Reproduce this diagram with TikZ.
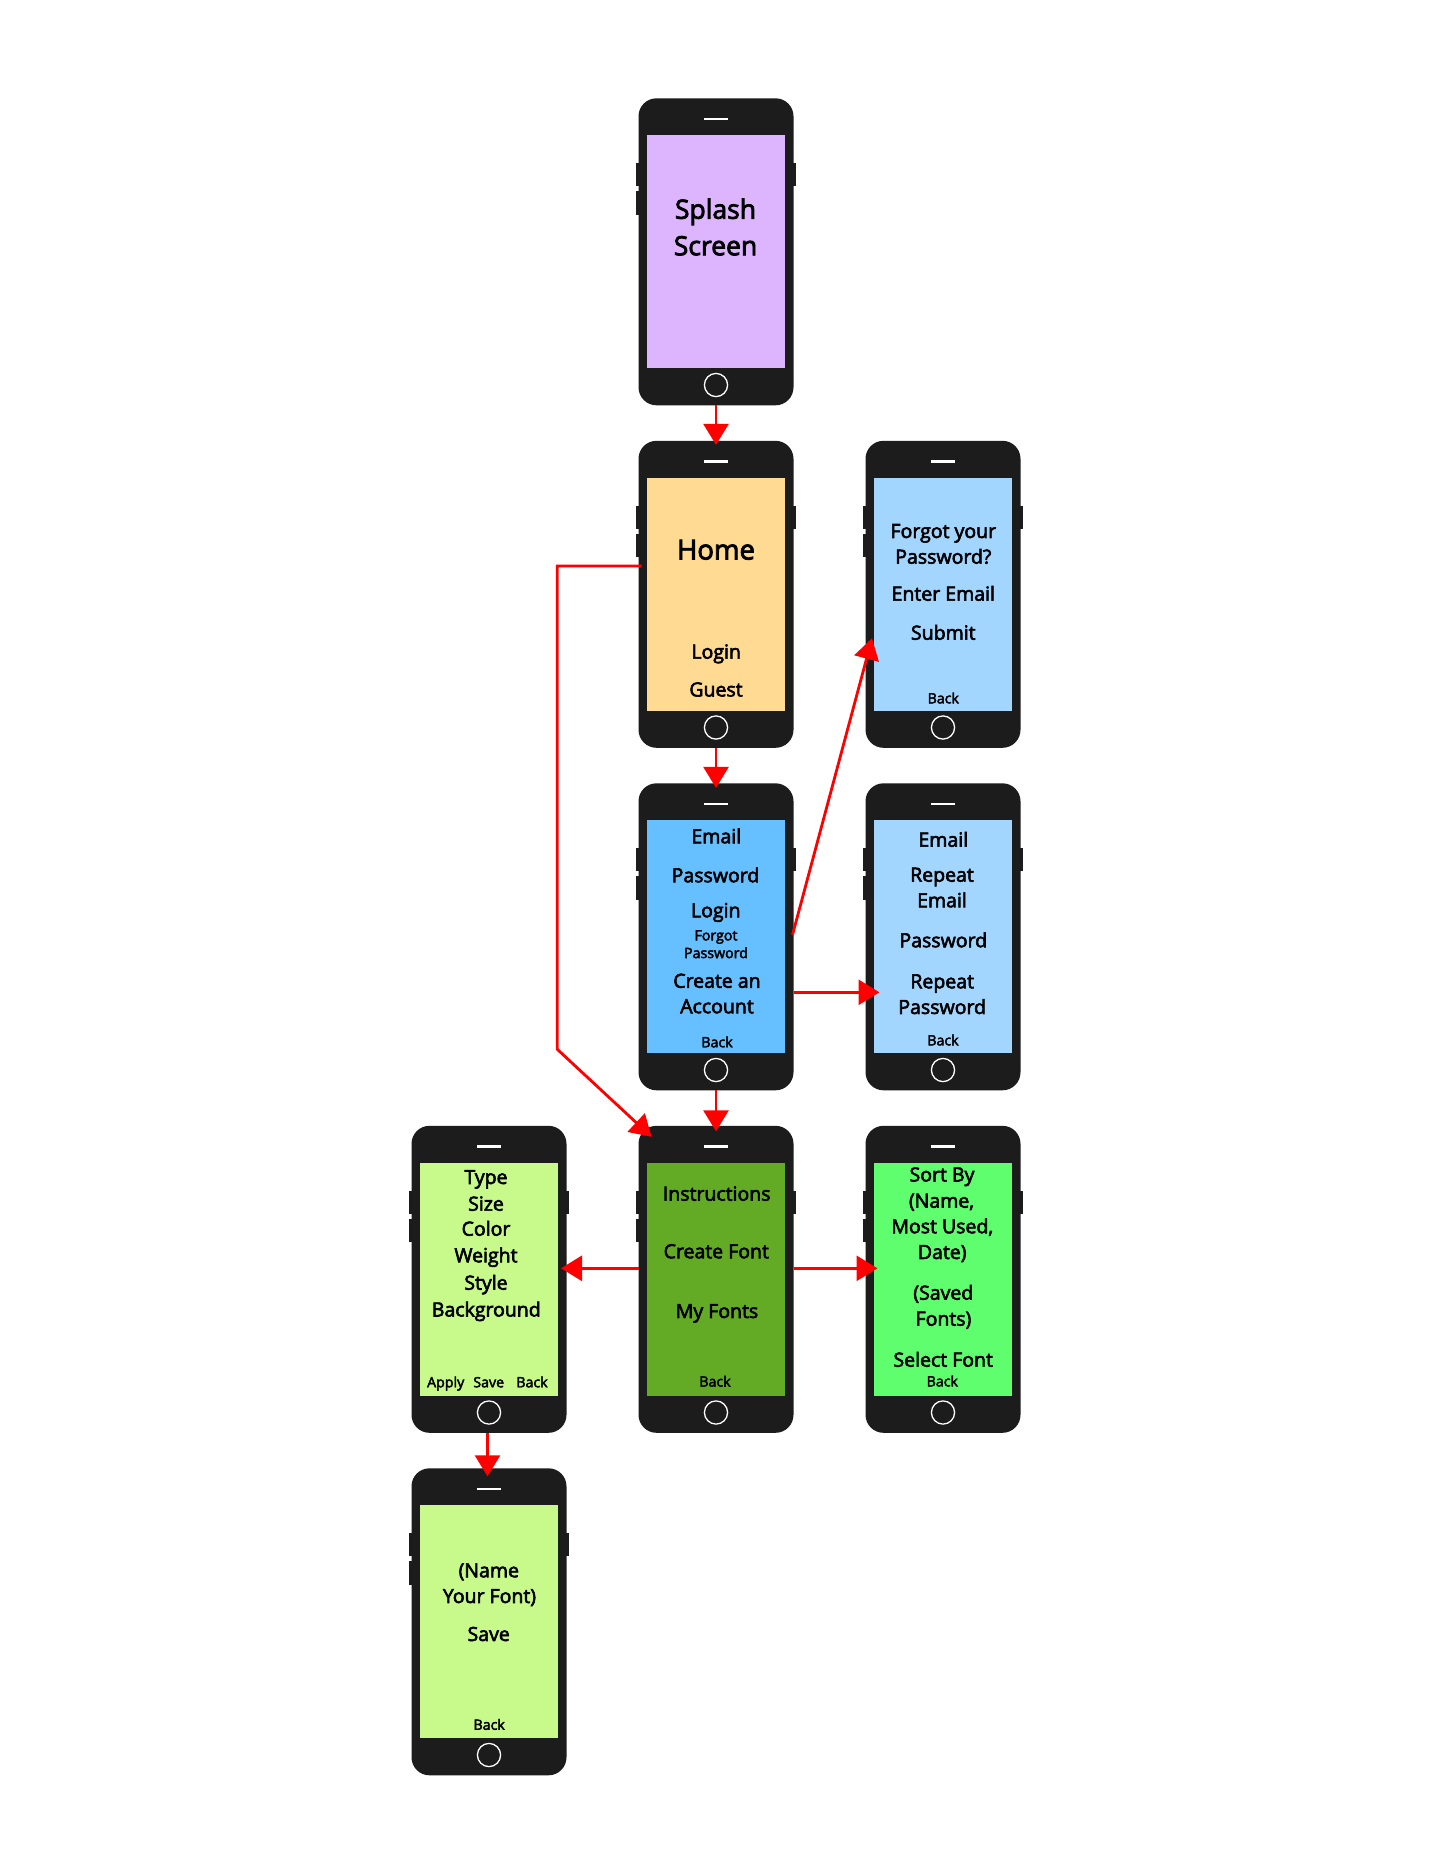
\documentclass[tikz,border=0pt]{standalone}
\usepackage{fontspec}
\setmainfont{Open Sans}[RawFeature={embolden=3}]
\usetikzlibrary{arrows.meta}
\definecolor{phonebk}{HTML}{1C1C1C}
\definecolor{arrowred}{HTML}{FF0000}
\definecolor{scsplash}{HTML}{DDB5FE}
\definecolor{schome}{HTML}{FFDA92}
\definecolor{sclogin}{HTML}{66BFFF}
\definecolor{sclight}{HTML}{A3D6FF}
\definecolor{scmenu}{HTML}{63AB24}
\definecolor{sceditor}{HTML}{C8F98B}
\definecolor{scfonts}{HTML}{5EFE6F}
\newcommand\myphone[4]{%
  \fill[phonebk] ({#2-80},{#3-88.8}) rectangle ({#2-77},{#3-65.4});
  \fill[phonebk] ({#2-80},{#3-60.4}) rectangle ({#2-77},{#3-37.1});
  \fill[phonebk] ({#2+77},{#3-88.8}) rectangle ({#2+79.5},{#3-65.4});
  \node[phonebody] (#1) at (#2,#3) {};
  \fill[#4] ({#2-68.8},{#3-116.8}) rectangle ({#2+68.8},{#3+116.5});
  \draw[white, line width=2.5pt] ({#2-11.7},{#3-132.8}) -- ({#2+11.7},{#3-132.8});
  \draw[white, line width=1.3pt] (#2,{#3+133.2}) circle[radius=11.6];
}
\tikzset{
  phonebody/.style={draw=none, fill=phonebk, rounded corners=18pt, minimum width=155pt, minimum height=307pt, inner sep=0pt, outer sep=0pt},
  lbl/.style={inner sep=0pt, outer sep=0pt, anchor=center, text=black, text height=13.9pt, text depth=0pt, font=\fontsize{19.5}{23}\selectfont},
  small/.style={lbl, text height=10.1pt, font=\fontsize{14.2}{17}\selectfont},
  splashtxt/.style={lbl, text height=18.9pt, font=\fontsize{26.5}{32}\selectfont},
  hometxt/.style={lbl, text height=19.6pt, font=\fontsize{27.5}{33}\selectfont},
  arr/.style={draw=arrowred, line width=2.8pt, -{Triangle[length=21pt,width=25pt]}},
}
\begin{document}
\begin{tikzpicture}[x=1pt,y=-1pt]
\fill[white] (0,0) rectangle (1446,1872);
\useasboundingbox (0,0) rectangle (1446,1872);

% phones
\myphone{splash}{716}{251.8}{scsplash}
\myphone{home}{716}{594.3}{schome}
\myphone{forgot}{943}{594.3}{sclight}
\myphone{login}{716}{936.8}{sclogin}
\myphone{signup}{943}{936.8}{sclight}
\myphone{editor}{489}{1279.3}{sceditor}
\myphone{menu}{716}{1279.3}{scmenu}
\myphone{myfonts}{943}{1279.3}{scfonts}
\myphone{savefont}{489}{1621.8}{sceditor}

% splash
\node[splashtxt] (sp1) at (715.5,209.3) {Splash};
\node[splashtxt] (sp2) at (715.5,245.8) {Screen};
% home
\node[hometxt] (h1) at (716,549.7) {Home};
\node[lbl] (h2) at (716.2,651.7) {Login};
\node[lbl] (h3) at (716,689.5) {Guest};
% forgot
\node[lbl] (f1) at (943.3,531) {Forgot your};
\node[lbl] (f2) at (943.3,556.7) {Password?};
\node[lbl] (f3) at (943.3,593.7) {Enter Email};
\node[lbl] (f4) at (943.3,632.7) {Submit};
\node[small] (f5) at (943.3,698.3) {Back};
% login
\node[lbl] (l1) at (716.3,836.3) {Email};
\node[lbl] (l2) at (715.5,875.3) {Password};
\node[lbl] (l3) at (715.8,910.3) {Login};
\node[small] (l4) at (716,935.3) {Forgot};
\node[small] (l5) at (716,953) {Password};
\node[lbl] (l6) at (717,980.8) {Create an};
\node[lbl] (l7) at (717,1006.3) {Account};
\node[small] (l8) at (717,1042.2) {Back};
% signup
\node[lbl] (s1) at (943.3,839.7) {Email};
\node[lbl] (s2) at (942,874.7) {Repeat};
\node[lbl] (s3) at (942,900.3) {Email};
\node[lbl] (s4) at (943.3,940.3) {Password};
\node[lbl] (s5) at (942.2,981.3) {Repeat};
\node[lbl] (s6) at (942.2,1007) {Password};
\node[small] (s7) at (943,1040.3) {Back};
% editor
\node[lbl] (e1) at (486,1177) {Type};
\node[lbl] (e2) at (486,1203.7) {Size};
\node[lbl] (e3) at (486,1228.7) {Color};
\node[lbl] (e4) at (486,1255.3) {Weight};
\node[lbl] (e5) at (486,1282.7) {Style};
\node[lbl] (e6) at (486.3,1309.5) {Background};
\node[small] (e7) at (445.7,1382.2) {Apply};
\node[small] (e8) at (488.7,1382.2) {Save};
\node[small] (e9) at (532,1382.2) {Back};
% menu
\node[lbl] (m1) at (716.7,1193.7) {Instructions};
\node[lbl] (m2) at (716.3,1251.3) {Create Font};
\node[lbl] (m3) at (717,1311) {My Fonts};
\node[small] (m4) at (715,1381.5) {Back};
% my fonts
\node[lbl] (y1) at (942,1174.5) {Sort By};
\node[lbl] (y2) at (941.5,1200.7) {(Name,};
\node[lbl] (y3) at (942.3,1226.3) {Most Used,};
\node[lbl] (y4) at (942.2,1252) {Date)};
\node[lbl] (y5) at (943.3,1292.7) {(Saved};
\node[lbl] (y6) at (943.5,1318.7) {Fonts)};
\node[lbl] (y7) at (943.2,1359.7) {Select Font};
\node[small] (y8) at (942.3,1381.3) {Back};
% save font
\node[lbl] (n1) at (488.8,1570.3) {(Name};
\node[lbl] (n2) at (489.5,1596) {Your Font)};
\node[lbl] (n3) at (488.7,1634) {Save};
\node[small] (n4) at (489.2,1724.7) {Back};

% connectors
\coordinate (bendA) at (557.3,566);
\coordinate (bendB) at (557.3,1049.3);
\draw[arr] (splash.south) -- ([yshift=-4pt]home.north);
\draw[arr] (home.south) -- ([yshift=-4.5pt]login.north);
\draw[arr] (login.south) -- ([yshift=-5.5pt]menu.north);
\draw[arr] ([xshift=3pt,yshift=28.3pt]home.west) -- (bendA) -- (bendB) -- ([xshift=13pt,yshift=-11pt]menu.north west);
\draw[arr] ([xshift=-1pt,yshift=2pt]login.east) -- ([xshift=6.5pt,yshift=-44pt]forgot.west);
\draw[arr] ([yshift=-55.5pt]login.east) -- ([xshift=14pt,yshift=-55.5pt]signup.west);
\draw[arr] ([yshift=11pt]menu.west) -- ([xshift=-5.5pt,yshift=11pt]editor.east);
\draw[arr] ([yshift=11pt]menu.east) -- ([xshift=12pt,yshift=11pt]myfonts.west);
\draw[arr] ([xshift=-1.5pt]editor.south) -- ([xshift=-1.5pt,yshift=-8pt]savefont.north);
\end{tikzpicture}
\end{document}
